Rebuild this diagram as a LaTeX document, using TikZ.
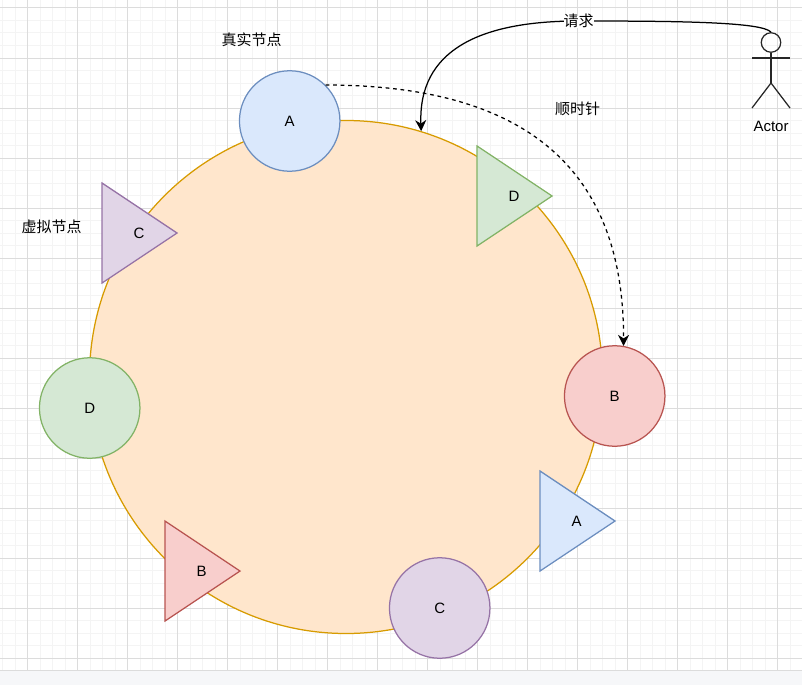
\documentclass[tikz,border=0pt]{standalone}
\usepackage{fontspec}
\setmainfont{Liberation Sans}
\newfontfamily\cjk{Noto Sans CJK SC}
\usetikzlibrary{arrows.meta,positioning}

\definecolor{blueF}{HTML}{DAE8FC}
\definecolor{blueD}{HTML}{6C8EBF}
\definecolor{redF}{HTML}{F8CECC}
\definecolor{redD}{HTML}{B85450}
\definecolor{greenF}{HTML}{D5E8D4}
\definecolor{greenD}{HTML}{82B366}
\definecolor{purpleF}{HTML}{E1D5E7}
\definecolor{purpleD}{HTML}{9673A6}
\definecolor{orangeF}{HTML}{FFE6CC}
\definecolor{orangeD}{HTML}{D79B00}
\definecolor{gridmajor}{HTML}{DCDCDC}
\definecolor{gridminor}{HTML}{F4F4F4}
\definecolor{bandfill}{HTML}{F6F7F9}

\tikzset{
    realnode/.style={draw, circle, line width=1.25pt, minimum size=100.5pt, inner sep=0pt, font=\fontsize{15}{18}\selectfont},
    virtline/.style={line width=1.25pt},
    virtlabel/.style={inner sep=0pt, font=\fontsize{15}{18}\selectfont},
    cjklabel/.style={inner sep=0pt, font=\cjk\fontsize{15}{18}\selectfont},
    actorline/.style={line width=1.25pt, draw=black!85},
    tiparrow/.style={line width=1.25pt, -{Stealth[length=11pt, width=11pt, inset=3.5pt]}}
}

\begin{document}
\begin{tikzpicture}[x=1pt, y=-1pt]
        \useasboundingbox (0,0) rectangle (802,685);

        % Grid
        \foreach \gx in {2.5,15,...,802} {\draw[gridminor, line width=1pt] (\gx,0) -- (\gx,670);}
        \foreach \gy in {-4.5,8,...,670} {\draw[gridminor, line width=1pt] (0,\gy) -- (802,\gy);}
        \foreach \gx in {27.5,77.5,...,802} {\draw[gridmajor, line width=1pt] (\gx,0) -- (\gx,670);}
        \foreach \gy in {8,58,...,670} {\draw[gridmajor, line width=1pt] (0,\gy) -- (802,\gy);}
        \fill[bandfill] (0,670) rectangle (802,685);
        \draw[gridmajor, line width=0.8pt] (0,670.5) -- (802,670.5);

        % Ring
        \node[draw=orangeD, fill=orangeF, circle, line width=1.25pt, minimum size=513pt, inner sep=0pt] (ring) at (346,377) {};

        % Real nodes
        \node[realnode, draw=blueD, fill=blueF] (realA) at (289.7,121) {A};
        \node[realnode, draw=redD, fill=redF] (realB) at (614.7,396) {B};
        \node[realnode, draw=purpleD, fill=purpleF] (realC) at (439.7,608) {C};
        \node[realnode, draw=greenD, fill=greenF] (realD) at (89.7,408) {D};

        % Virtual nodes
        \draw[virtline, draw=greenD, fill=greenF] (477,146) -- (477,246) -- (552,196) -- cycle;
        \node[virtlabel] (virtD) at (514,196) {D};
        \draw[virtline, draw=purpleD, fill=purpleF] (102,183) -- (102,283) -- (177,233) -- cycle;
        \node[virtlabel] (virtC) at (139,233) {C};
        \draw[virtline, draw=blueD, fill=blueF] (540,471) -- (540,571) -- (615,521) -- cycle;
        \node[virtlabel] (virtA) at (576.5,521) {A};
        \draw[virtline, draw=redD, fill=redF] (165,521) -- (165,621) -- (240,571) -- cycle;
        \node[virtlabel] (virtB) at (201.5,571) {B};

        % Actor
        \node[draw=black!85, circle, line width=1.25pt, minimum size=19.5pt, inner sep=0pt] (head) at (771,42.5) {};
        \coordinate (hip) at (771,83);
        \coordinate (armL) at (752,58);
        \coordinate (armR) at (790,58);
        \coordinate (legL) at (752,108);
        \coordinate (legR) at (790,108);
        \draw[actorline] (head) -- (hip);
        \draw[actorline] (armL) -- (armR);
        \draw[actorline] (legL) -- (hip) -- (legR);
        \node[virtlabel] (actor) at (771,126) {Actor};

        % Connections
        \draw[tiparrow, dash pattern=on 3.75pt off 3.75pt] (realA.45) .. controls (515,85) and (624,160) .. (realB.80);
        \coordinate (bend) at (578.5,21);
        \draw[tiparrow] (head.north) .. controls (762,22) and (680,21) .. (bend) .. controls (480,21) and (418,50) .. (ring.73.6);

        % Labels
        \node[cjklabel, fill=white] (request) at (bend) {请求};
        \node[cjklabel] (realtext) at (251.5,39.5) {真实节点};
        \node[cjklabel] (virttext) at (51.5,227) {虚拟节点};
        \node[cjklabel] (clockwise) at (577.5,108.5) {顺时针};
    \end{tikzpicture}
\end{document}
